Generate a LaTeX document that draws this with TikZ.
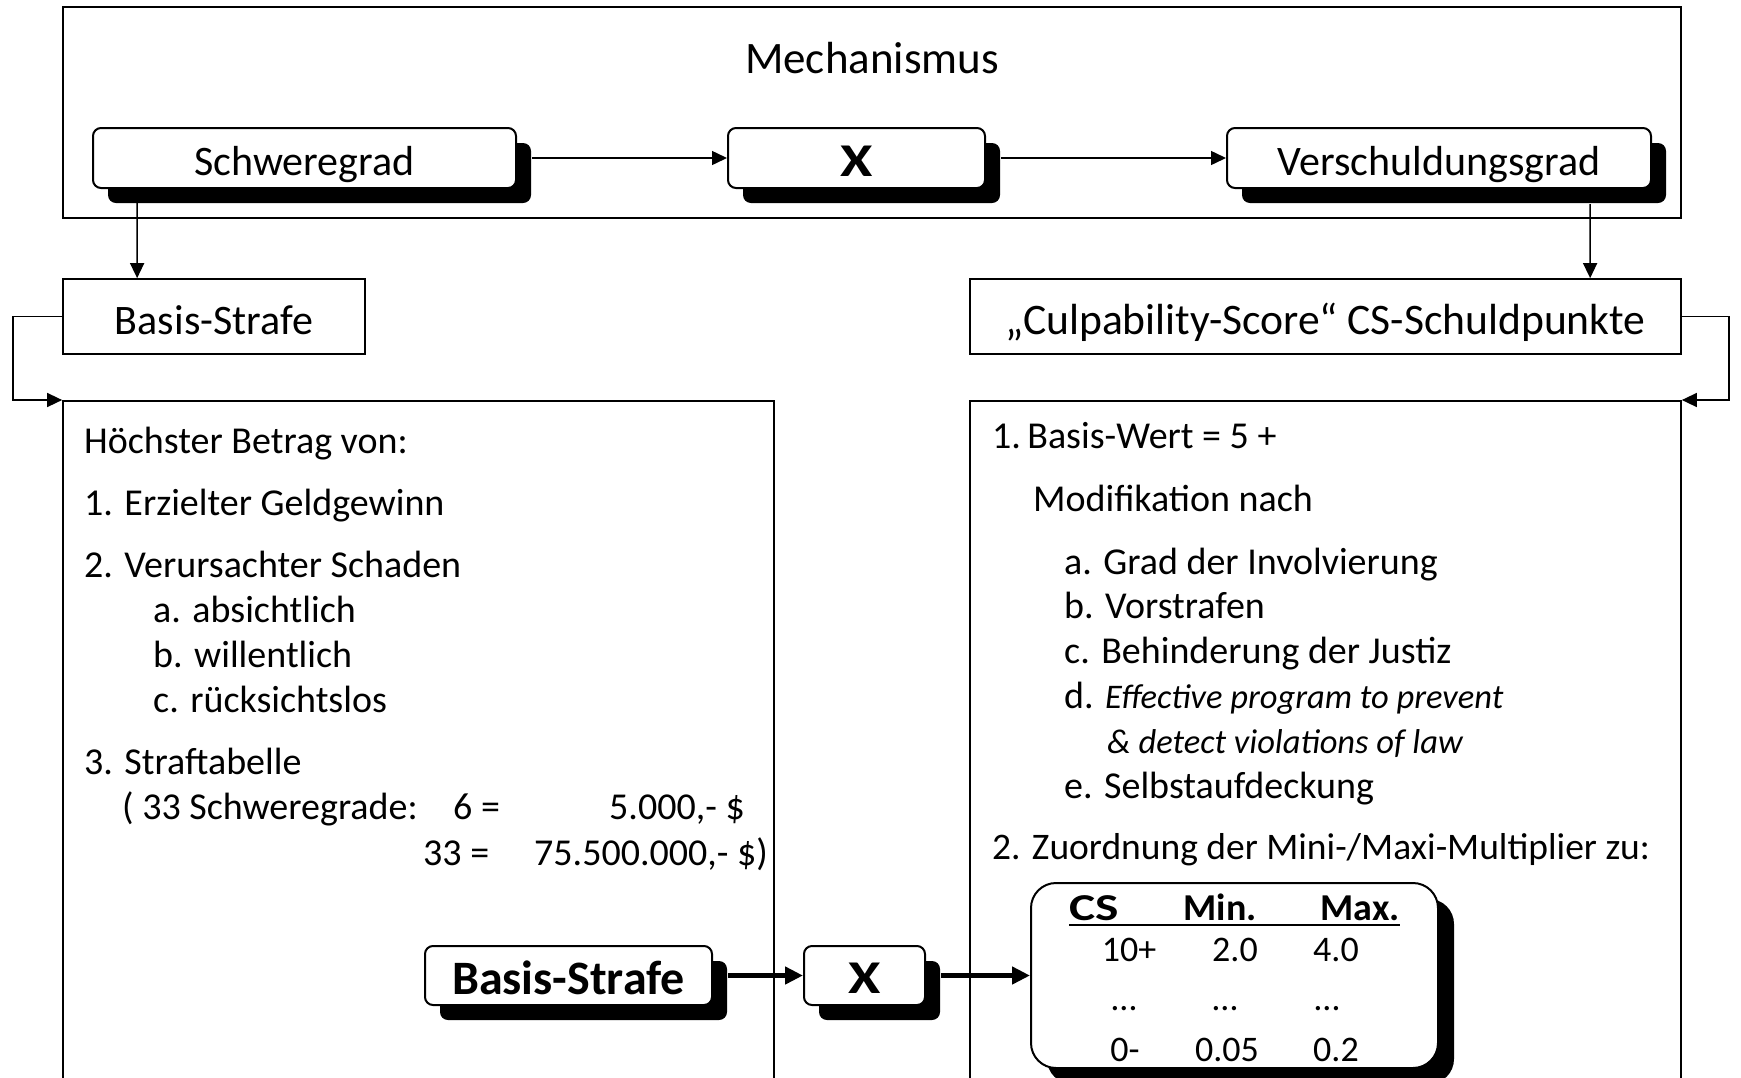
\documentclass[tikz,border=0pt]{standalone}
\usepackage{fontspec}
\setmainfont{Carlito}
\usetikzlibrary{arrows.meta,shadows}
\newcommand{\fs}[1]{\fontsize{#1}{#1}\selectfont}
\begin{document}
\begin{tikzpicture}[x=1pt,y=-1pt,
  plainbox/.style={draw, line width=1.7pt, inner sep=0pt, fill=white},
  shbox/.style={draw, line width=2pt, rounded corners=8pt, inner sep=0pt, fill=white,
     text depth=0pt, text height=35pt,
     drop shadow={shadow xshift=15pt, shadow yshift=-15pt, fill=black, opacity=1}},
  lbl/.style={text depth=0pt, text height=35pt},
  arr/.style={line width=1.5pt, -{Triangle[length=15pt,width=14pt]}},
  tarr/.style={line width=4.5pt, -{Triangle[length=18pt,width=17pt]}},
  txt/.style={inner sep=0pt, anchor=base west, font=\fs{38}},
  ctxt/.style={inner sep=0pt, anchor=base, font=\fs{36}},
]
\useasboundingbox (0,0) rectangle (1741,1077);
\clip (0,0) rectangle (1741,1077);
\fill[white] (0,0) rectangle (1741,1077);

% top mechanism box
\node[plainbox, minimum width=1618pt, minimum height=211pt] (mech) at (872,112.5) {};
\node[inner sep=0pt, font=\fs{45}] (mechtitle) at (872,58) {Mechanismus};
\node[shbox, minimum width=423pt, minimum height=60pt, font=\fs{42}] (schwere) at (304.5,158) {Schweregrad};
\node[shbox, minimum width=257pt, minimum height=60pt, font=\fs{47}\bfseries, text height=36pt] (xmul) at (856.5,158) {\scalebox{1.25}[1]{X}};
\node[shbox, minimum width=424pt, minimum height=60pt, font=\fs{42}] (versch) at (1439,158) {Verschuldungsgrad};

% second row
\node[plainbox, lbl, minimum width=302pt, minimum height=75pt, font=\fs{42}] (basis) at (214,316.5) {Basis-Strafe};
\node[plainbox, lbl, minimum width=711pt, minimum height=75pt, font=\fs{43.6}] (culp) at (1325.5,316.5) {„Culpability-Score“ CS-Schuldpunkte};

% lower boxes (open at bottom edge)
\node[plainbox, minimum width=711pt, minimum height=720pt, anchor=north] (lowleft) at (418.5,400) {};
\node[plainbox, minimum width=711pt, minimum height=720pt, anchor=north] (lowright) at (1325.5,400) {};

% connectors top
\draw[arr] ([xshift=15pt]schwere.east) -- (xmul.west);
\draw[arr] ([xshift=15pt]xmul.east) -- (versch.west);
\draw[arr] ([xshift=45pt]schwere.south west) -- ([xshift=75pt]basis.north west);
\draw[arr] ([xshift=364pt,yshift=-15pt]versch.south west) -- ([xshift=621pt]culp.north west);
\draw[arr] (basis.west) -- ++(-49,0) |- (lowleft.north west);
\draw[arr] (culp.east) -- ++(47,0) |- (lowright.north east);

% left text
\node[txt] (l1) at (84,453) {Höchster Betrag von:};
\node[txt] (l2) at (84,515) {1. Erzielter Geldgewinn};
\node[txt] (l3) at (84,577) {2. Verursachter Schaden};
\node[txt] (l4) at (153,622) {a. absichtlich};
\node[txt] (l5) at (153,667) {b. willentlich};
\node[txt] (l6) at (153,712) {c. rücksichtslos};
\node[txt] (l7) at (84,774) {3. Straftabelle};
\node[txt] (l8) at (122,819) {( 33 Schweregrade:};
\node[txt] (l9) at (453,819) {6 =};
\node[txt, anchor=base east] (l10) at (745,819) {5.000,- \$};
\node[txt] (l11) at (423,865) {33 =};
\node[txt] (l12) at (534,865) {75.500.000,- \$)};

% right text
\node[txt] (r1) at (992,448) {1.\,Basis-Wert = 5 +};
\node[txt] (r2) at (1033,511) {Modifikation nach};
\node[txt] (r3) at (1064,574) {a. Grad der Involvierung};
\node[txt] (r4) at (1064,618) {b. Vorstrafen};
\node[txt] (r5) at (1064,663) {c. Behinderung der Justiz};
\node[txt] (r6) at (1064,708) {d. {\fs{34.5}\itshape Effective program to prevent}};
\node[txt, font=\fs{34.5}\itshape] (r7) at (1107,753) {\& detect violations of law};
\node[txt] (r8) at (1064,798) {e. Selbstaufdeckung};
\node[txt, font=\fs{37.5}] (r9) at (992,859) {2. Zuordnung der Mini-/Maxi-Multiplier zu:};

% bottom chain
\node[shbox, minimum width=287pt, minimum height=59pt, font=\fs{48}\bfseries, text height=37pt] (bstrafe) at (568.5,975.5) {Basis-Strafe};
\node[shbox, minimum width=121pt, minimum height=59pt, font=\fs{47}\bfseries, text height=36pt] (xmul2) at (864.5,975.5) {\scalebox{1.25}[1]{X}};
\node[draw, line width=2pt, rounded corners=25pt, inner sep=0pt, fill=white,
      drop shadow={shadow xshift=16pt, shadow yshift=-16pt, fill=black, opacity=1},
      minimum width=407pt, minimum height=185pt] (table) at (1234.5,975.5) {};
\draw[tarr] ([xshift=15pt]bstrafe.east) -- (xmul2.west);
\draw[tarr] ([xshift=15pt]xmul2.east) -- (table.west);

% table content
\node[ctxt, font=\fs{38}\bfseries] (hcs) at (1094,920) {\scalebox{1.3}[1]{CS}};
\node[ctxt, font=\fs{38}\bfseries] (hmin) at (1220,920) {Min.};
\node[ctxt, font=\fs{38}\bfseries] (hmax) at (1360,920) {Max.};
\draw[line width=1.5pt] (1069,925) -- (1400,925);
\node[ctxt] (a1) at (1129,961) {10+};
\node[ctxt] (a2) at (1235,961) {2.0};
\node[ctxt] (a3) at (1336,961) {4.0};
\node[ctxt] (b1) at (1124,1010) {…};
\node[ctxt] (b2) at (1225,1010) {…};
\node[ctxt] (b3) at (1327,1010) {…};
\node[ctxt] (c1) at (1125,1061) {0-};
\node[ctxt] (c2) at (1227,1061) {0.05};
\node[ctxt] (c3) at (1336,1061) {0.2};
\end{tikzpicture}
\end{document}
